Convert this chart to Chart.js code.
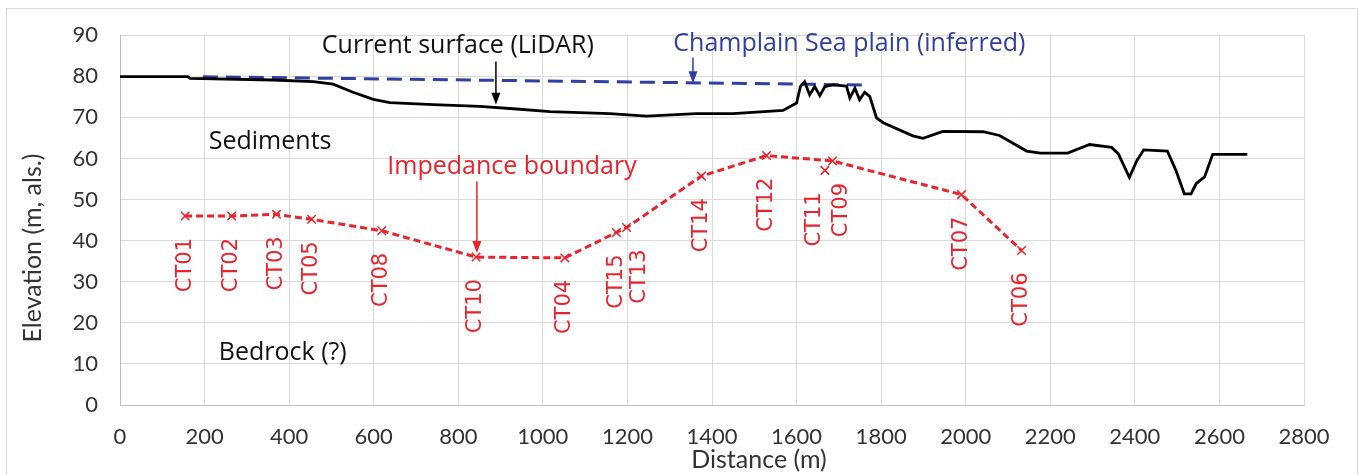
<!DOCTYPE html>
<html>
<head>
<meta charset="utf-8">
<script src="https://cdn.jsdelivr.net/npm/chart.js@4/dist/chart.umd.min.js"></script>
<style>
  html, body { margin: 0; padding: 0; background: #fff; }
  #wrap { width: 1364px; height: 475px; }
</style>
</head>
<body>
<div id="wrap"><canvas id="profile" width="1364" height="475"></canvas></div>
<script>
// ground surface from LiDAR (distance m, elevation m als.)
var surfaceDist = [0, 160, 166, 362, 457, 504, 551, 599, 638, 741, 851, 930, 1017, 1158, 1245, 1363, 1450, 1568, 1600, 1609,
  1619, 1631, 1643, 1655, 1667, 1686, 1718, 1726, 1738, 1749, 1761, 1773, 1789, 1805, 1875, 1899, 1946, 2041, 2080,
  2144, 2177, 2241, 2293, 2345, 2361, 2387, 2405, 2421, 2477, 2497, 2517, 2533, 2545, 2565, 2584, 2666];
var surfaceElev = [79.9, 79.9, 79.5, 79.1, 78.7, 78.1, 76.1, 74.4, 73.6, 73.1, 72.7, 72.1, 71.4, 70.9, 70.3, 70.9, 70.9, 71.7, 73.5, 77.5,
  78.7, 75.5, 77.5, 75.3, 77.5, 77.9, 77.6, 74.7, 77.1, 74.3, 76.1, 75.1, 69.9, 68.7, 65.5, 64.9, 66.6, 66.5, 65.6,
  61.8, 61.3, 61.3, 63.4, 62.7, 61.1, 55.4, 59.5, 62.1, 61.8, 57.1, 51.4, 51.4, 53.9, 55.5, 61.0, 61.0];

// Champlain Sea plain (inferred)
var plainDist = [196, 1755];
var plainElev = [79.9, 77.9];

// impedance boundary picks along the line
var ctNames = ['CT01', 'CT02', 'CT03', 'CT05', 'CT08', 'CT10', 'CT04', 'CT15', 'CT13', 'CT14', 'CT12', 'CT09', 'CT07', 'CT06'];
var ctDist  = [154, 264, 370, 453, 619, 842, 1052, 1174, 1198, 1375, 1529, 1685, 1990, 2132];
var ctElev  = [46.0, 46.0, 46.4, 45.2, 42.4, 36.0, 35.8, 42.0, 43.2, 55.7, 60.7, 59.4, 51.2, 37.6];

// pick not joined to the line
var ctOffNames = ['CT11'];
var ctOffDist  = [1667];
var ctOffElev  = [57.1];

var xTicks = [0, 200, 400, 600, 800, 1000, 1200, 1400, 1600, 1800, 2000, 2200, 2400, 2600, 2800];
var yTicks = [0, 10, 20, 30, 40, 50, 60, 70, 80, 90];

var RED = '#E8232B';
var BLUE = '#2F3FA3';
var AXIS_TXT = '#333';

function pts(xs, ys) {
  var out = [];
  for (var i = 0; i < xs.length; i++) out.push({x: xs[i], y: ys[i]});
  return out;
}

// white page + thin frame round the chart, like the Excel chart box
var frame = {
  id: 'frame',
  beforeDraw: function(chart) {
    var c = chart.ctx;
    c.save();
    c.fillStyle = '#fff';
    c.fillRect(0, 0, chart.width, chart.height);
    c.strokeStyle = '#d9d9d9';
    c.lineWidth = 1;
    c.strokeRect(6.5, 8.5, 1351, 480);
    c.restore();
  }
};

// axis titles drawn by hand: in the original they sit off the plot centre
var axisTitles = {
  id: 'axisTitles',
  afterDraw: function(chart) {
    var c = chart.ctx, a = chart.chartArea;
    c.save();
    c.font = '25px Lato';
    c.fillStyle = AXIS_TXT;
    c.textAlign = 'center';
    c.textBaseline = 'middle';
    c.fillText('Distance (m)', (a.left + a.right) / 2 + 47, 460);
    c.translate(33, (a.top + a.bottom) / 2 + 28);
    c.rotate(-Math.PI / 2);
    c.fillText('Elevation (m, als.)', 0, 0);
    c.restore();
  }
};

// rotated CTxx labels under each marker
var labelNudge = {CT13: 13, CT11: -10, CT09: 9};
var ctLabels = {
  id: 'ctLabels',
  afterDatasetsDraw: function(chart) {
    var c = chart.ctx, xs = chart.scales.x, ys = chart.scales.y;
    var names = ctNames.concat(ctOffNames);
    var dx = ctDist.concat(ctOffDist);
    var dy = ctElev.concat(ctOffElev);
    c.save();
    c.fillStyle = RED;
    c.font = '21px "DejaVu Sans"';
    c.textAlign = 'right';
    c.textBaseline = 'middle';
    for (var i = 0; i < names.length; i++) {
      var px = xs.getPixelForValue(dx[i]) + (labelNudge[names[i]] || 0);
      var py = ys.getPixelForValue(dy[i]) + 22;
      c.save();
      c.translate(px, py);
      c.rotate(-Math.PI / 2);
      c.fillText(names[i], 0, 0);
      c.restore();
    }
    c.restore();
  }
};

function arrow(c, x, y0, y1, color) {
  c.strokeStyle = color;
  c.fillStyle = color;
  c.lineWidth = 1.5;
  c.beginPath();
  c.moveTo(x, y0);
  c.lineTo(x, y1 - 10);
  c.stroke();
  c.beginPath();
  c.moveTo(x, y1);
  c.lineTo(x - 4.5, y1 - 12);
  c.lineTo(x + 4.5, y1 - 12);
  c.closePath();
  c.fill();
}

// text notes and arrows, placed in data units
var notes = {
  id: 'notes',
  afterDatasetsDraw: function(chart) {
    var c = chart.ctx, xs = chart.scales.x, ys = chart.scales.y;
    function X(v) { return xs.getPixelForValue(v); }
    function Y(v) { return ys.getPixelForValue(v); }
    c.save();
    c.textAlign = 'center';
    c.textBaseline = 'middle';
    c.font = '25px "Open Sans"';
    c.fillStyle = '#111';
    c.fillText('Current surface (LiDAR)', X(799), Y(87.4));
    c.fillText('Sediments', X(355), Y(64));
    c.fillText('Bedrock (?)', X(385), Y(12.6));
    c.fillStyle = BLUE;
    c.fillText('Champlain Sea plain (inferred)', X(1725), Y(87.9));
    c.fillStyle = RED;
    c.fillText('Impedance boundary', X(927), Y(58));
    arrow(c, X(889), Y(83.6), Y(73.1), '#000');
    arrow(c, X(1355), Y(84.6), Y(78.3), BLUE);
    arrow(c, X(844), Y(54.4), Y(37.0), RED);
    c.restore();
  }
};

var tickFont = {family: 'Lato', size: 22};

new Chart(document.getElementById('profile').getContext('2d'), {
  type: 'line',
  data: {
    datasets: [
      {
        label: 'Current surface (LiDAR)',
        data: pts(surfaceDist, surfaceElev),
        borderColor: '#000',
        borderWidth: 2.8,
        pointRadius: 0,
        tension: 0
      },
      {
        label: 'Champlain Sea plain (inferred)',
        data: pts(plainDist, plainElev),
        borderColor: BLUE,
        borderWidth: 3,
        borderDash: [15, 8],
        pointRadius: 0
      },
      {
        label: 'Impedance boundary',
        data: pts(ctDist, ctElev),
        borderColor: RED,
        borderWidth: 3,
        borderDash: [7, 4],
        pointStyle: 'crossRot',
        pointRadius: 6,
        pointBorderWidth: 1.5,
        pointBorderColor: RED
      },
      {
        label: 'CT11',
        data: pts(ctOffDist, ctOffElev),
        showLine: false,
        pointStyle: 'crossRot',
        pointRadius: 6,
        pointBorderWidth: 1.5,
        pointBorderColor: RED
      }
    ]
  },
  options: {
    responsive: false,
    animation: false,
    layout: { padding: {top: 29, right: 60, left: 0, bottom: 0} },
    plugins: { legend: {display: false}, tooltip: {enabled: false} },
    scales: {
      x: {
        type: 'linear',
        min: 0, max: 2800,
        afterBuildTicks: function(s) { s.ticks = xTicks.map(function(v) { return {value: v}; }); },
        afterFit: function(s) { s.height = 70; },
        grid: { color: '#d9d9d9', lineWidth: 1, drawTicks: false },
        border: { color: '#bfbfbf' },
        ticks: { color: AXIS_TXT, font: tickFont, padding: 19, maxRotation: 0,
                 callback: function(v) { return String(v); } }
      },
      y: {
        type: 'linear',
        min: 0, max: 90,
        afterBuildTicks: function(s) { s.ticks = yTicks.map(function(v) { return {value: v}; }); },
        afterFit: function(s) { s.width = 120; },
        grid: { color: '#d9d9d9', lineWidth: 1, drawTicks: false },
        border: { color: '#bfbfbf' },
        ticks: { color: AXIS_TXT, font: tickFont, padding: 22,
                 callback: function(v) { return String(v); } }
      }
    }
  },
  plugins: [frame, axisTitles, ctLabels, notes]
});
</script>
</body>
</html>
